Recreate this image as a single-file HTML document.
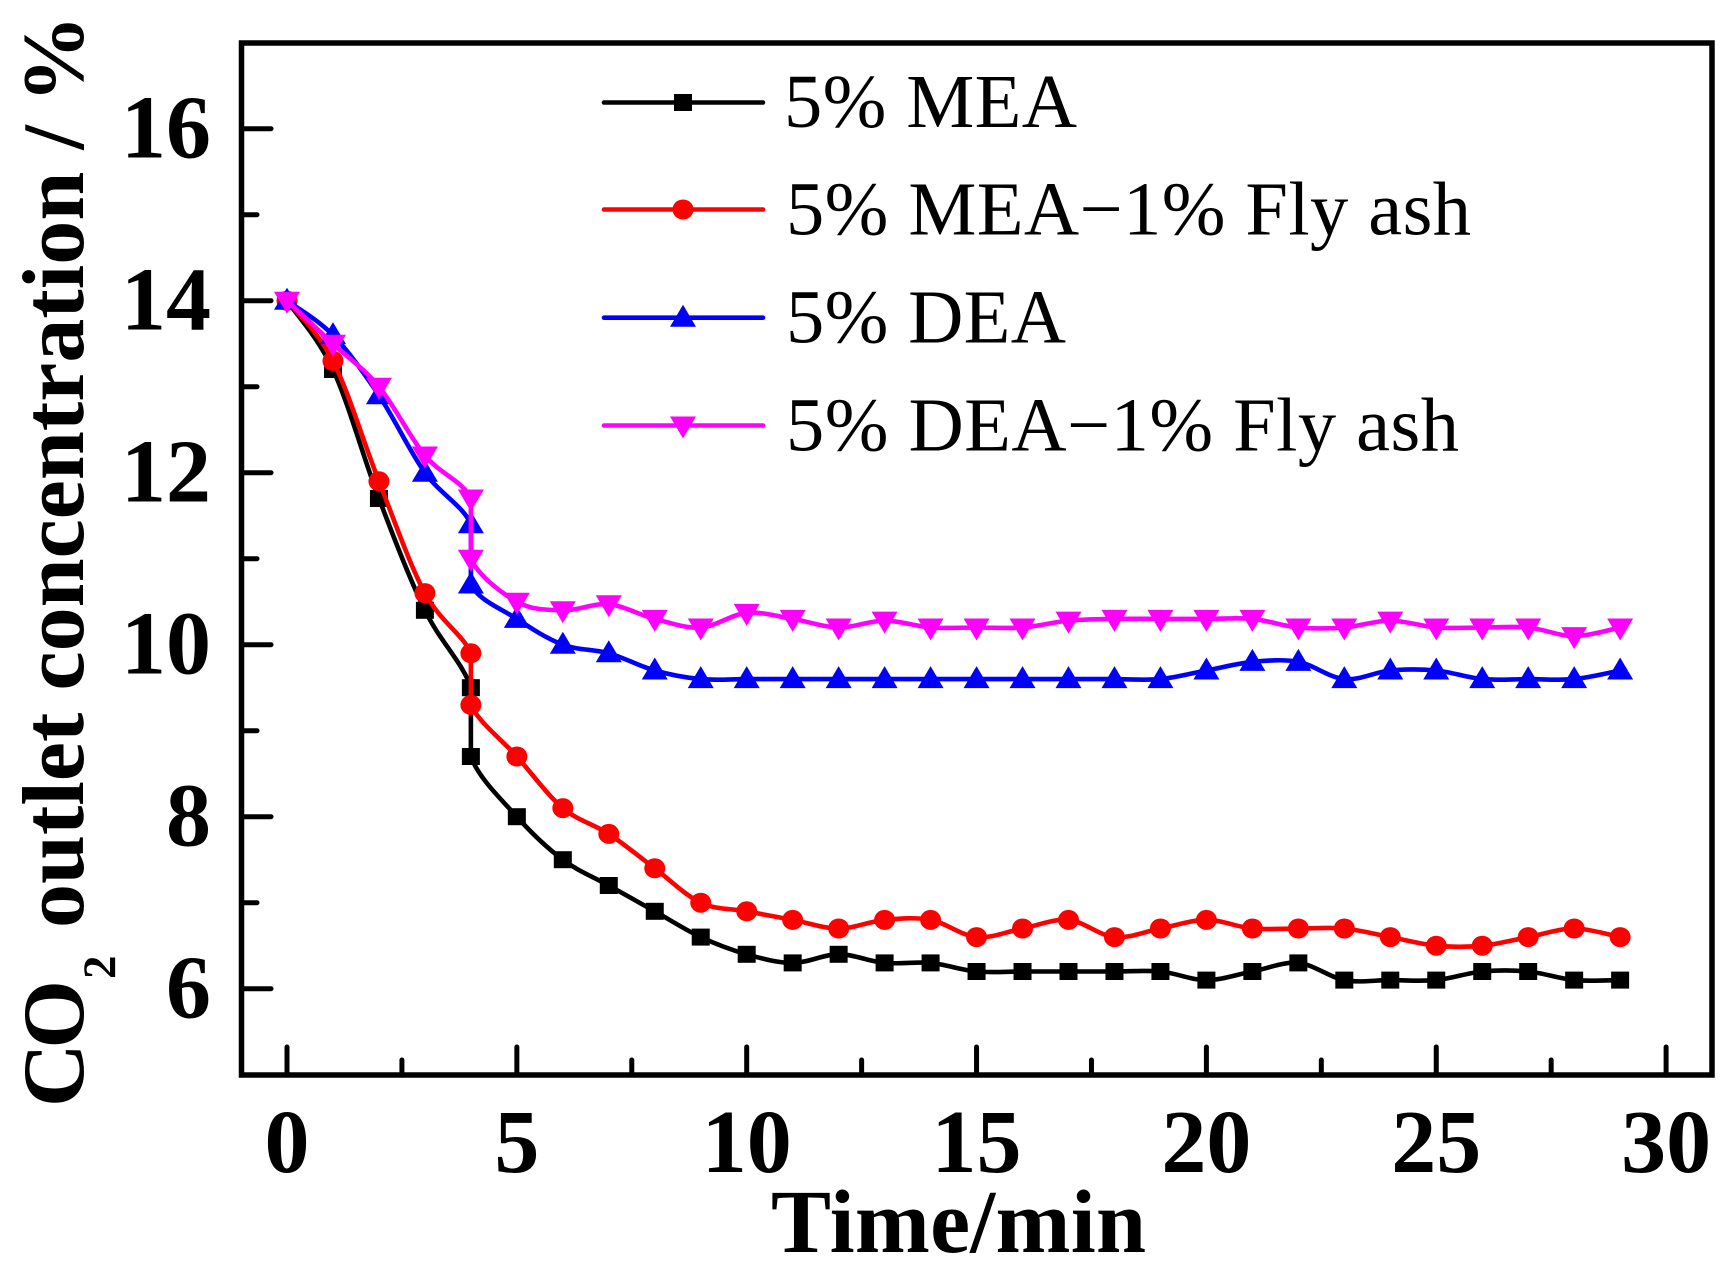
<!DOCTYPE html>
<html lang="en">
<head>
<meta charset="utf-8">
<title>CO2 outlet concentration over time</title>
<style>
html,body{margin:0;padding:0;background:#fff;width:1736px;height:1276px;overflow:hidden}
svg{display:block}
text{font-family:"Liberation Serif",serif;fill:#000}
.b{font-weight:bold}
</style>
</head>
<body>
<svg id="chart" width="1736" height="1276" viewBox="0 0 1736 1276" xmlns="http://www.w3.org/2000/svg">
<rect x="0" y="0" width="1736" height="1276" fill="#fff"/>
<g id="ticks"></g>
<g id="series"></g>
<rect x="241.5" y="43" width="1470.5" height="1032" fill="none" stroke="#000" stroke-width="5.5"/>
<g id="ticklabels"></g>
<text class="b" x="771" y="1252" font-size="90" textLength="375" lengthAdjust="spacing">Time/min</text>
<g>
<text class="b" transform="translate(83 1107) rotate(-90)" font-size="88" textLength="127" lengthAdjust="spacing">CO</text>
<text class="b" transform="translate(115 979) rotate(-90)" font-size="47">2</text>
<text class="b" transform="translate(83 928) rotate(-90)" font-size="88" textLength="913" lengthAdjust="spacing">outlet concentration / %</text>
</g>
<g id="legend">
<text x="784" y="127" font-size="76.5" textLength="293" lengthAdjust="spacing">5% MEA</text>
<text x="786" y="234.5" font-size="76.5" textLength="685" lengthAdjust="spacing">5% MEA−1% Fly ash</text>
<text x="786" y="342.5" font-size="76.5" textLength="280" lengthAdjust="spacing">5% DEA</text>
<text x="786" y="450.5" font-size="76.5" textLength="673" lengthAdjust="spacing">5% DEA−1% Fly ash</text>
</g>
</svg>
<script>
const timeValues = [0,1,2,3,4,4,5,6,7,8,9,10,11,12,13,14,15,16,17,18,19,20,21,22,23,24,25,26,27,28,29];
const meaValues = [14,13.2,11.7,10.4,9.5,8.7,8,7.5,7.2,6.9,6.6,6.4,6.3,6.4,6.3,6.3,6.2,6.2,6.2,6.2,6.2,6.1,6.2,6.3,6.1,6.1,6.1,6.2,6.2,6.1,6.1];
const meaAshValues = [14,13.3,11.9,10.6,9.9,9.3,8.7,8.1,7.8,7.4,7,6.9,6.8,6.7,6.8,6.8,6.6,6.7,6.8,6.6,6.7,6.8,6.7,6.7,6.7,6.6,6.5,6.5,6.6,6.7,6.6];
const deaValues = [14,13.6,12.9,12,11.4,10.7,10.3,10,9.9,9.7,9.6,9.6,9.6,9.6,9.6,9.6,9.6,9.6,9.6,9.6,9.6,9.7,9.8,9.8,9.6,9.7,9.7,9.6,9.6,9.6,9.7];
const deaAshValues = [14,13.5,13,12.2,11.7,11,10.5,10.4,10.47,10.3,10.2,10.37,10.3,10.2,10.28,10.2,10.2,10.2,10.28,10.3,10.3,10.3,10.3,10.2,10.2,10.28,10.2,10.2,10.2,10.1,10.2];
const xMajorTicks = [0,5,10,15,20,25,30];
const xMinorTicks = [2.5,7.5,12.5,17.5,22.5,27.5];
const yMajorTicks = [6,8,10,12,14,16];
const yMinorTicks = [7,9,11,13,15];

const NS = 'http://www.w3.org/2000/svg';
const sx = t => 287 + 45.97 * t;
const sy = v => 988.7 - 86 * (v - 6);
const frameLeft = 242, frameBottom = 1075;

function make(tag, parent, attrs) {
  const el = document.createElementNS(NS, tag);
  for (const k in attrs) el.setAttribute(k, attrs[k]);
  parent.appendChild(el);
  return el;
}

function clamp(v, lo, hi) { return Math.min(Math.max(v, lo), hi); }

function smoothPath(xs, ys) {
  const p = xs.map((x, i) => [sx(x), sy(ys[i])]);
  let d = 'M' + p[0][0].toFixed(2) + ' ' + p[0][1].toFixed(2);
  for (let i = 0; i < p.length - 1; i++) {
    const a = p[Math.max(i - 1, 0)], b = p[i], c = p[i + 1], e = p[Math.min(i + 2, p.length - 1)];
    const c1x = clamp(b[0] + (c[0] - a[0]) / 6, b[0], c[0]), c1y = b[1] + (c[1] - a[1]) / 6;
    const c2x = clamp(c[0] - (e[0] - b[0]) / 6, b[0], c[0]), c2y = c[1] - (e[1] - b[1]) / 6;
    d += 'C' + [c1x, c1y, c2x, c2y, c[0], c[1]].map(n => n.toFixed(2)).join(' ');
  }
  return d;
}

function drawMarker(parent, shape, color, cx, cy) {
  let el;
  if (shape === 'square') {
    el = make('rect', parent, {x: cx - 9, y: cy - 8.5, width: 18, height: 17, fill: color});
  } else if (shape === 'circle') {
    el = make('ellipse', parent, {cx: cx, cy: cy, rx: 10.5, ry: 10, fill: color});
  } else if (shape === 'up') {
    el = make('polygon', parent, {points: (cx - 13) + ',' + (cy + 9) + ' ' + (cx + 13) + ',' + (cy + 9) + ' ' + cx + ',' + (cy - 13), fill: color});
  } else {
    el = make('polygon', parent, {points: (cx - 13) + ',' + (cy - 9) + ' ' + (cx + 13) + ',' + (cy - 9) + ' ' + cx + ',' + (cy + 13), fill: color});
  }
  return el;
}

const tickGroup = document.getElementById('ticks');
const labelGroup = document.getElementById('ticklabels');

xMajorTicks.forEach(t => {
  const tick = make('line', tickGroup, {x1: sx(t), x2: sx(t), y1: frameBottom, y2: frameBottom - 28, stroke: '#000', 'stroke-width': 5, 'stroke-linecap': 'round'});
  
  
  const label = make('text', labelGroup, {x: sx(t), y: 1172, 'font-size': 90, 'text-anchor': 'middle', class: 'b'});
  label.textContent = String(t);
  
  
});
xMinorTicks.forEach(t => {
  const tick = make('line', tickGroup, {x1: sx(t), x2: sx(t), y1: frameBottom, y2: frameBottom - 15, stroke: '#000', 'stroke-width': 5, 'stroke-linecap': 'round'});
  
  
});
yMajorTicks.forEach(v => {
  const tick = make('line', tickGroup, {x1: frameLeft, x2: frameLeft + 29, y1: sy(v), y2: sy(v), stroke: '#000', 'stroke-width': 5, 'stroke-linecap': 'round'});
  
  
  const label = make('text', labelGroup, {x: 211, y: sy(v) + 29, 'font-size': 90, 'text-anchor': 'end', class: 'b'});
  label.textContent = String(v);
  
  
});
yMinorTicks.forEach(v => {
  const tick = make('line', tickGroup, {x1: frameLeft, x2: frameLeft + 15, y1: sy(v), y2: sy(v), stroke: '#000', 'stroke-width': 5, 'stroke-linecap': 'round'});
  
  
});

const seriesGroup = document.getElementById('series');
const legendGroup = document.getElementById('legend');

function drawSeries(key, values, color, shape, legendY) {
  const group = make('g', seriesGroup, {});
  
  
  const line = make('path', group, {d: smoothPath(timeValues, values), fill: 'none', stroke: color, 'stroke-width': 4.6, 'stroke-linejoin': 'round'});
  
  
  values.forEach((v, i) => {
    const m = drawMarker(group, shape, color, sx(timeValues[i]), sy(v));
    
    
  });
  const legendLine = make('line', legendGroup, {x1: 604, x2: 763, y1: legendY, y2: legendY, stroke: color, 'stroke-width': 4.6, 'stroke-linecap': 'round'});
  
  
  const legendMark = drawMarker(legendGroup, shape, color, 683, legendY);
  
  
}

drawSeries('mea', meaValues, '#000000', 'square', 102.5);
drawSeries('mea-fly-ash', meaAshValues, '#ff0000', 'circle', 209.5);
drawSeries('dea', deaValues, '#0000ff', 'up', 317.7);
drawSeries('dea-fly-ash', deaAshValues, '#ff00ff', 'down', 425.5);
</script>
</body>
</html>
